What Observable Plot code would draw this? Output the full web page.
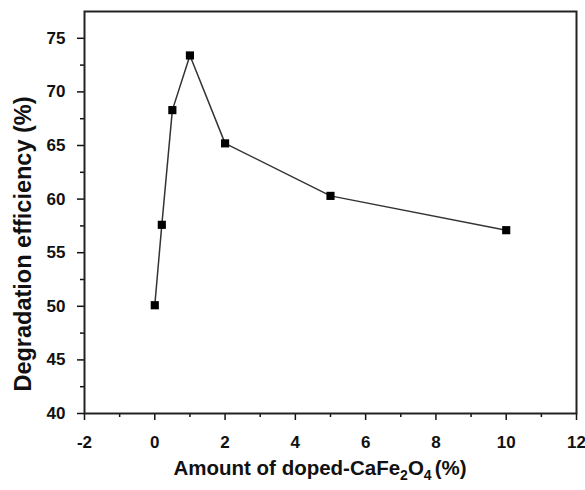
<!DOCTYPE html>
<html><head><meta charset="utf-8">
<script src="https://cdn.jsdelivr.net/npm/d3@7"></script>
<script src="https://cdn.jsdelivr.net/npm/@observablehq/plot@0.6"></script>
<style>body{margin:0;background:#fff;}</style>
</head><body><div id="chart"></div>
<script>
const amounts = [0, 0.2, 0.5, 1, 2, 5, 10];
const efficiency = [50.1, 57.6, 68.3, 73.4, 65.2, 60.3, 57.1];
const xMajor = [-2, 0, 2, 4, 6, 8, 10, 12];
const xMinor = [-1, 1, 3, 5, 7, 9, 11];
const yMajor = [40, 45, 50, 55, 60, 65, 70, 75];
const yMinor = [42.5, 47.5, 52.5, 57.5, 62.5, 67.5, 72.5];

const data = amounts.map((a, i) => ({x: a, y: efficiency[i]}));
const font = "Liberation Sans, Arial, sans-serif";

const plot = Plot.plot({
  width: 585, height: 490,
  marginLeft: 84, marginRight: 9, marginTop: 11, marginBottom: 77,
  style: {fontFamily: font, background: "#fff", color: "#111"},
  x: {domain: [-2, 12], label: null},
  y: {domain: [40, 77.5], label: null},
  marks: [
    Plot.axisX({ticks: xMajor, tickSize: 7, tickPadding: 15, fontSize: 17, tickFormat: d => String(d), label: null, strokeWidth: 1.5}),
    Plot.axisX({ticks: xMinor, tickSize: 4, text: null, label: null, strokeWidth: 1.5}),
    Plot.axisY({ticks: yMajor, tickSize: 7, tickPadding: 12, fontSize: 17, label: null, strokeWidth: 1.5}),
    Plot.axisY({ticks: yMinor, tickSize: 4, text: null, label: null, strokeWidth: 1.5}),
    Plot.frame({strokeWidth: 2, stroke: "#222"}),
    Plot.line(data, {x: "x", y: "y", stroke: "#333", strokeWidth: 1.5}),
    Plot.dot(data, {x: "x", y: "y", symbol: "square", r: 4.6, fill: "#000", stroke: "none"})
  ]
});
document.getElementById("chart").appendChild(plot);

const svg = d3.select(plot);
svg.selectAll("text")
  .style("font-weight", "bold").style("font-size", "17px").style("fill", "#111");

// x-axis label with subscripts
const xl = svg.append("text")
  .attr("x", 320).attr("y", 475)
  .attr("text-anchor", "middle")
  .style("font-weight", "bold").style("font-size", "20.5px")
  .style("fill", "#111");
xl.append("tspan").text("Amount of doped-CaFe");
xl.append("tspan").text("2").style("font-size", "14px").attr("dy", 5);
xl.append("tspan").text("O").attr("dy", -5);
xl.append("tspan").text("4").style("font-size", "14px").attr("dy", 5);
xl.append("tspan").text("(%)").attr("dy", -5).attr("dx", 3);

svg.append("text")
  .attr("transform", "translate(31,244) rotate(-90)")
  .attr("text-anchor", "middle")
  .style("font-weight", "bold").style("font-size", "23.5px")
  .style("fill", "#111")
  .text("Degradation efficiency (%)");
</script>
</body></html>
